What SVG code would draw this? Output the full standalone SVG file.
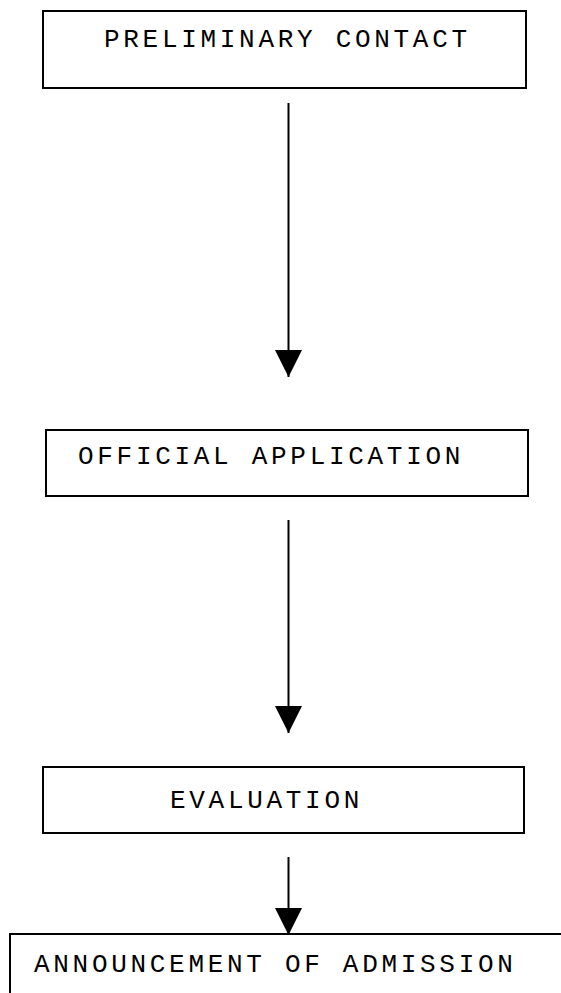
<svg xmlns="http://www.w3.org/2000/svg" width="561" height="993" viewBox="0 0 561 993">
<defs>
<style>
.box{fill:#fff;stroke:#000;stroke-width:2}
.lbl{font-family:"Liberation Mono","DejaVu Sans Mono",monospace;font-size:26px;letter-spacing:3.7px;fill:#000}
.conn line{stroke:#000;stroke-width:2}
</style>
<marker id="ah" markerUnits="userSpaceOnUse" markerWidth="28" markerHeight="27" refX="27" refY="13.5" orient="auto">
<path d="M0,0 L27,13.5 L0,27 Z" fill="#000"/>
</marker>
</defs>
<rect width="561" height="993" fill="#fff"/>
<g id="n1">
<rect class="box" x="43" y="11" width="483" height="77"/>
<text class="lbl" x="104" y="47">PRELIMINARY CONTACT</text>
</g>
<g id="n2">
<rect class="box" x="46" y="430" width="482" height="66"/>
<text class="lbl" x="78" y="464">OFFICIAL APPLICATION</text>
</g>
<g id="n3">
<rect class="box" x="43" y="767" width="481" height="66"/>
<text class="lbl" x="170" y="808">EVALUATION</text>
</g>
<g id="n4">
<rect class="box" x="10" y="934" width="600" height="100"/>
<text class="lbl" x="34" y="972">ANNOUNCEMENT OF ADMISSION</text>
</g>
<g id="connectors" class="conn">
<line x1="288.5" y1="103" x2="288.5" y2="377" marker-end="url(#ah)"/>
<line x1="288.5" y1="520" x2="288.5" y2="733" marker-end="url(#ah)"/>
<line x1="288.5" y1="857" x2="288.5" y2="935" marker-end="url(#ah)"/>
</g>
</svg>
